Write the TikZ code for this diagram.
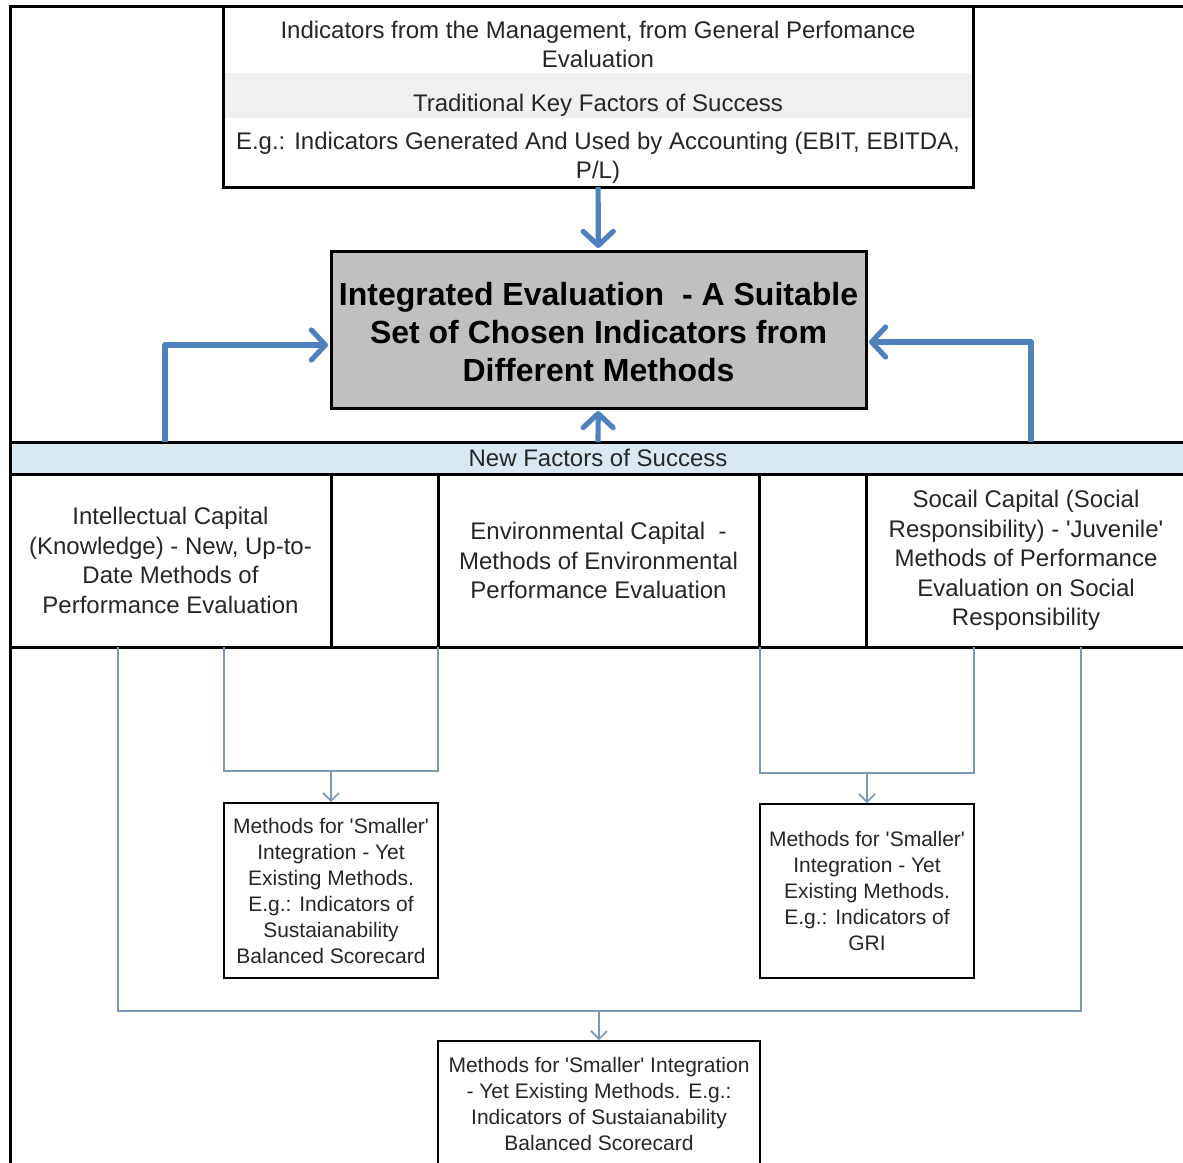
\documentclass[tikz,border=0pt]{standalone}
\usepackage{fontspec}
\setmainfont{Liberation Sans}
\usepackage{xcolor}
\usetikzlibrary{arrows.meta,positioning}

\definecolor{flowblue}{RGB}{79,129,189}
\definecolor{linkgray}{RGB}{125,152,180}
\definecolor{bandblue}{RGB}{218,233,241}
\definecolor{rowgray}{RGB}{240,240,240}
\definecolor{maingray}{RGB}{192,192,192}

\begin{document}
\begin{tikzpicture}[x=0.5pt, y=-0.5pt,
    cell/.style={draw=black, line width=1.5pt, anchor=north west, align=center,
        inner sep=0pt, outer sep=0pt, text=black!85, font=\fontsize{12}{14.75}\selectfont},
    row/.style={cell, draw=none},
    smallbox/.style={cell, line width=1pt, font=\fontsize{10.5}{13}\selectfont},
    mainbox/.style={cell, fill=maingray, text=black,
        font=\fontsize{16}{19}\selectfont\bfseries},
    bigarrow/.style={-{Straight Barb[length=7pt, width=15pt, round]}, line width=2.6pt,
        draw=flowblue, line join=round, shorten >=1.5pt},
    link/.style={draw=linkgray, line width=0.8pt},
    linkarrow/.style={link, -{Straight Barb[length=4pt, width=8pt]}, shorten >=0.5pt}
  ]
  \useasboundingbox (0,0) rectangle (1183,1162);
  \clip (0,0) rectangle (1183,1162);

  % top block
  \node[row, minimum width=375pt, minimum height=33.5pt] (mgmt) at (223,6)
    {\rule{0pt}{13.8pt}Indicators from the Management, from General Perfomance\\Evaluation};
  \node[row, fill=rowgray, minimum width=375pt, minimum height=22.5pt,
    below=0pt of mgmt] (trad) {\rule{0pt}{18.8pt}Traditional Key Factors of Success};
  \node[row, minimum width=375pt, minimum height=34.5pt, below=0pt of trad] (acct)
    {\rule{0pt}{13.8pt}E.g.: Indicators Generated And Used by Accounting (EBIT, EBITDA,\\P/L)};
  \draw[line width=1.5pt] (mgmt.north west) rectangle (acct.south east);

  \node[mainbox, minimum width=267.5pt, minimum height=78.5pt] (integ) at (331,251)
    {\rule{0pt}{14.5pt}Integrated Evaluation\ \ - A Suitable\\Set of Chosen Indicators from\\Different Methods};

  % new factors
  \node[cell, fill=bandblue, minimum width=588pt, minimum height=16pt] (newf) at (10,442)
    {New Factors of Success};
  \node[cell, minimum width=160.5pt, minimum height=86.5pt] (intel) at (10,474)
    {Intellectual Capital\\(Knowledge) - New, Up-to-\\Date Methods of\\Performance Evaluation};
  \node[cell, minimum width=53.5pt, minimum height=86.5pt, right=0pt of intel] (gapL) {};
  \node[cell, minimum width=160.5pt, minimum height=86.5pt, right=0pt of gapL] (env)
    {Environmental Capital\ \ -\\Methods of Environmental\\Performance Evaluation};
  \node[cell, minimum width=53.5pt, minimum height=86.5pt, right=0pt of env] (gapR) {};
  \node[cell, minimum width=160pt, minimum height=86.5pt, right=0pt of gapR] (social)
    {Socail Capital (Social\\Responsibility) - \textquotesingle Juvenile\textquotesingle\\Methods of Performance\\Evaluation on Social\\Responsibility};

  % smaller integration
  \node[smallbox, minimum width=107pt, minimum height=87.5pt] (smallL) at (224,803)
    {Methods for \textquotesingle Smaller\textquotesingle\\Integration - Yet\\Existing Methods.\\E.g.: Indicators of\\Sustaianability\\Balanced Scorecard};
  \node[smallbox, minimum width=107pt, minimum height=87pt] (smallR) at (760,804)
    {Methods for \textquotesingle Smaller\textquotesingle\\Integration - Yet\\Existing Methods.\\E.g.: Indicators of\\GRI};
  \node[smallbox, minimum width=161pt, minimum height=63pt] (smallB) at (438,1041)
    {Methods for \textquotesingle Smaller\textquotesingle{} Integration\\- Yet Existing Methods. E.g.:\\Indicators of Sustaianability\\Balanced Scorecard};

  \coordinate (feedL) at (165,442);
  \coordinate (feedR) at (1031,442);
  \coordinate (jL) at (331,771);
  \coordinate (jR) at (867,773);
  \coordinate (jB) at (599,1011);
  \coordinate (oL) at (118,647);
  \coordinate (oR) at (1081,647);

  % outer frame
  \draw[line width=1.5pt] (10,1180) -- (10,6) -- (1195,6);

  \draw[bigarrow] (acct) -- (integ);
  \draw[bigarrow] (newf) -- (integ);
  \draw[bigarrow] (feedL) |- ([yshift=-7.75pt]integ.west);
  \draw[bigarrow] (feedR) |- ([yshift=-6.25pt]integ.east);

  \draw[link] (smallL.north west |- intel.south) |- (jL) -| (smallL.north east |- gapL.south);
  \draw[linkarrow] (jL) -- (smallL);
  \draw[link] (smallR.north west |- gapR.south) |- (jR) -| (smallR.north east |- social.south);
  \draw[linkarrow] (jR) -- (smallR);
  \draw[link] (oL) |- (jB) -| (oR);
  \draw[linkarrow] (jB) -- (smallB);
\end{tikzpicture}
\end{document}
